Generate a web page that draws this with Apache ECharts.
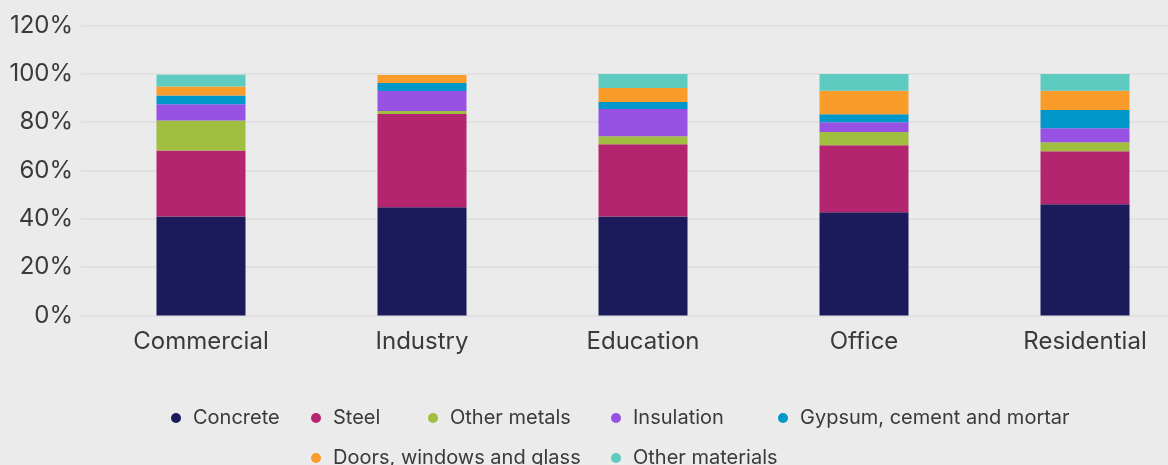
<!DOCTYPE html>
<html>
<head>
<meta charset="utf-8">
<script src="https://cdn.jsdelivr.net/npm/echarts@6/dist/echarts.min.js"></script>
<style>
  html, body { margin: 0; padding: 0; background: #ebebeb; }
  #chart { width: 1168px; height: 465px; }
</style>
</head>
<body>
<div id="chart"></div>
<script>
    // 数据
    var categories = ['Commercial', 'Industry', 'Education', 'Office', 'Residential'];
    var concrete    = [41.0, 44.8, 41.0, 42.7, 46.0];
    var steel       = [27.3, 38.6, 29.9, 27.8, 22.0];
    var otherMetals = [12.4, 1.2, 3.3, 5.4, 3.7];
    var insulation  = [6.7, 8.3, 11.2, 4.1, 5.8];
    var gypsum      = [3.6, 3.3, 2.9, 3.3, 7.5];
    var doors       = [3.8, 3.3, 5.8, 9.7, 8.0];
    var otherMat    = [4.8, 0.0, 5.8, 6.9, 6.9];
    var yTicks = [0, 20, 40, 60, 80, 100, 120];

    var seriesNames = ['Concrete', 'Steel', 'Other metals', 'Insulation',
        'Gypsum, cement and mortar', 'Doors, windows and glass', 'Other materials'];
    var seriesData = [concrete, steel, otherMetals, insulation, gypsum, doors, otherMat];
    var colors = ['#1b1a5a', '#b42570', '#a0be40', '#9852e3', '#0197c9', '#fa9c2a', '#5ecbc0'];

    var fontName = 'Inter, "Noto Sans", sans-serif';

    // 图例位置 (每项单独一个 legend)
    var legendPos = [
        [166, 403], [306, 403], [423, 403], [606, 403], [773, 403],
        [306, 443], [606, 443]
    ];
    var legends = [];
    $each = function(arr, fn){ for (var i = 0; i < arr.length; i++) fn(i, arr[i]); };
    $each(seriesNames, function(i, name){
        legends.push({
            data: [name],
            left: legendPos[i][0],
            top: legendPos[i][1],
            icon: 'circle',
            itemWidth: 18,
            itemHeight: 10,
            itemGap: 0,
            textStyle: {
                fontFamily: fontName,
                fontSize: 20,
                color: '#3a3a3a',
                padding: [0, 0, 0, 3]
            }
        });
    });

    var series = [];
    $each(seriesNames, function(i, name){
        series.push({
            name: name,
            type: 'bar',
            stack: 'total',
            barWidth: 89,
            xAxisIndex: 0,
            yAxisIndex: 0,
            itemStyle: { color: colors[i] },
            data: seriesData[i]
        });
    });

    var myChart = echarts.init(document.getElementById('chart'));
    var option = {
        backgroundColor: '#ebebeb',
        animation: false,
        color: colors,
        legend: legends,
        grid: [
            { left: 90.5, width: 1105, top: 25.5, bottom: 149.5, outerBoundsMode: 'none' },
            { left: 81, right: 0, top: 25.5, bottom: 149.5, outerBoundsMode: 'none' }
        ],
        xAxis: [
            {
                type: 'category',
                gridIndex: 0,
                data: categories,
                axisLine: { show: false },
                axisTick: { show: false },
                axisLabel: {
                    margin: 14,
                    fontFamily: fontName,
                    fontSize: 24,
                    color: '#3a3a3a'
                }
            },
            {
                type: 'value',
                gridIndex: 1,
                show: false
            }
        ],
        yAxis: [
            {
                type: 'value',
                gridIndex: 0,
                min: yTicks[0],
                max: yTicks[yTicks.length - 1],
                interval: 20,
                show: false,
                splitLine: { show: false }
            },
            {
                type: 'value',
                gridIndex: 1,
                min: yTicks[0],
                max: yTicks[yTicks.length - 1],
                interval: 20,
                axisLine: { show: false },
                axisTick: { show: false },
                axisLabel: {
                    formatter: '{value}%',
                    margin: 8,
                    fontFamily: fontName,
                    fontSize: 24,
                    color: '#3a3a3a'
                },
                splitLine: {
                    show: true,
                    lineStyle: { color: '#dedede', width: 1.5 }
                }
            }
        ],
        series: series
    };
    myChart.setOption(option);
</script>
</body>
</html>
